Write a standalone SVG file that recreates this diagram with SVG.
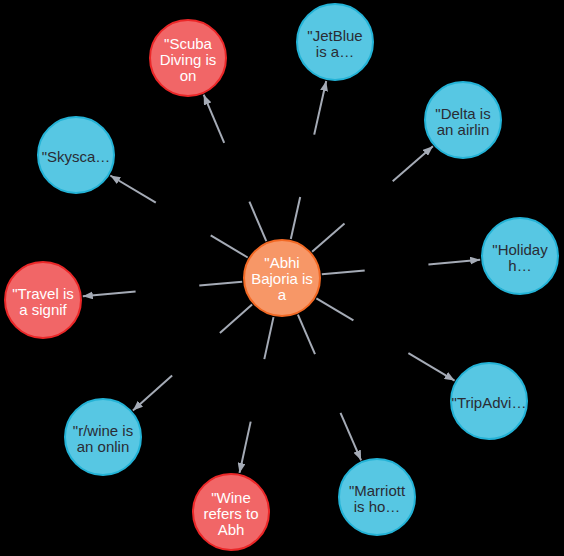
<svg xmlns="http://www.w3.org/2000/svg" width="564" height="556" viewBox="0 0 564 556">
<defs>
<marker id="arr" viewBox="0 0 10 8" refX="10" refY="4" markerWidth="10" markerHeight="8" markerUnits="userSpaceOnUse" orient="auto">
<path d="M0,0 L10,4 L0,8 Z" fill="#A5ABB6"/>
</marker>
</defs>
<style>
.e{stroke:#A5ABB6;stroke-width:2;fill:none}
.o{marker-end:url(#arr)}
.blue{fill:#57C7E3;stroke:#23B3D7;stroke-width:2}
.red{fill:#F16667;stroke:#EB2728;stroke-width:2}
.org{fill:#F79767;stroke:#F36924;stroke-width:2}
text{font-family:"Liberation Sans",Arial,Helvetica,sans-serif;font-size:15px;text-anchor:middle}
.dk{fill:#2A2C34}
.wt{fill:#FFFFFF}
</style>
<rect width="564" height="556" fill="#000000"/>
<g id="connectors">
<line class="e" x1="266.3" y1="241.2" x2="249.4" y2="201.7"/>
<line class="e o" x1="224.2" y1="142.8" x2="203.7" y2="94.7"/>
<line class="e" x1="290.8" y1="239.0" x2="300.2" y2="197.0"/>
<line class="e o" x1="314.2" y1="134.6" x2="326.2" y2="81.0"/>
<line class="e" x1="312.1" y1="251.7" x2="344.5" y2="223.4"/>
<line class="e o" x1="392.7" y1="181.3" x2="432.9" y2="146.3"/>
<line class="e" x1="321.8" y1="274.3" x2="364.7" y2="270.4"/>
<line class="e o" x1="428.4" y1="264.5" x2="480.2" y2="259.7"/>
<line class="e" x1="316.4" y1="298.4" x2="353.4" y2="320.4"/>
<line class="e o" x1="408.4" y1="353.1" x2="454.6" y2="380.6"/>
<line class="e" x1="297.9" y1="314.7" x2="315.0" y2="354.2"/>
<line class="e o" x1="340.5" y1="412.9" x2="361.1" y2="460.3"/>
<line class="e" x1="273.5" y1="317.1" x2="264.3" y2="359.1"/>
<line class="e o" x1="250.7" y1="421.6" x2="239.5" y2="472.9"/>
<line class="e" x1="252.1" y1="304.6" x2="219.9" y2="333.1"/>
<line class="e o" x1="172.1" y1="375.6" x2="132.9" y2="410.4"/>
<line class="e" x1="242.2" y1="281.7" x2="199.3" y2="285.6"/>
<line class="e o" x1="135.6" y1="291.5" x2="82.8" y2="296.3"/>
<line class="e" x1="247.7" y1="257.5" x2="210.7" y2="235.4"/>
<line class="e o" x1="155.8" y1="202.6" x2="110.3" y2="175.5"/>
</g>
<g id="center">
<circle class="org" cx="282" cy="278" r="38"/>
<text class="wt" x="282" y="268">"Abhi</text>
<text class="wt" x="282" y="284">Bajoria is</text>
<text class="wt" x="282" y="300">a</text>
</g>
<g id="scuba">
<circle class="red" cx="188" cy="58" r="38"/>
<text class="wt" x="188" y="49">"Scuba</text>
<text class="wt" x="188" y="65">Diving is</text>
<text class="wt" x="188" y="81">on</text>
</g>
<g id="jetblue">
<circle class="blue" cx="335" cy="42" r="38"/>
<text class="dk" x="335" y="41">"JetBlue</text>
<text class="dk" x="335" y="57">is a…</text>
</g>
<g id="delta">
<circle class="blue" cx="463" cy="120" r="38"/>
<text class="dk" x="463" y="119">"Delta is</text>
<text class="dk" x="463" y="135">an airlin</text>
</g>
<g id="holiday">
<circle class="blue" cx="520" cy="256" r="38"/>
<text class="dk" x="520" y="255">"Holiday</text>
<text class="dk" x="520" y="271">h…</text>
</g>
<g id="tripadvisor">
<circle class="blue" cx="489" cy="401" r="38"/>
<text class="dk" x="489" y="408">"TripAdvi…</text>
</g>
<g id="marriott">
<circle class="blue" cx="377" cy="497" r="38"/>
<text class="dk" x="377" y="496">"Marriott</text>
<text class="dk" x="377" y="512">is ho…</text>
</g>
<g id="wine">
<circle class="red" cx="231" cy="512" r="38"/>
<text class="wt" x="231" y="503">"Wine</text>
<text class="wt" x="231" y="519">refers to</text>
<text class="wt" x="231" y="535">Abh</text>
</g>
<g id="rwine">
<circle class="blue" cx="103" cy="437" r="38"/>
<text class="dk" x="103" y="436">"r/wine is</text>
<text class="dk" x="103" y="452">an onlin</text>
</g>
<g id="travel">
<circle class="red" cx="43" cy="300" r="38"/>
<text class="wt" x="43" y="299">"Travel is</text>
<text class="wt" x="43" y="315">a signif</text>
</g>
<g id="skyscanner">
<circle class="blue" cx="76" cy="155" r="38"/>
<text class="dk" x="76" y="162">"Skysca…</text>
</g>
</svg>
